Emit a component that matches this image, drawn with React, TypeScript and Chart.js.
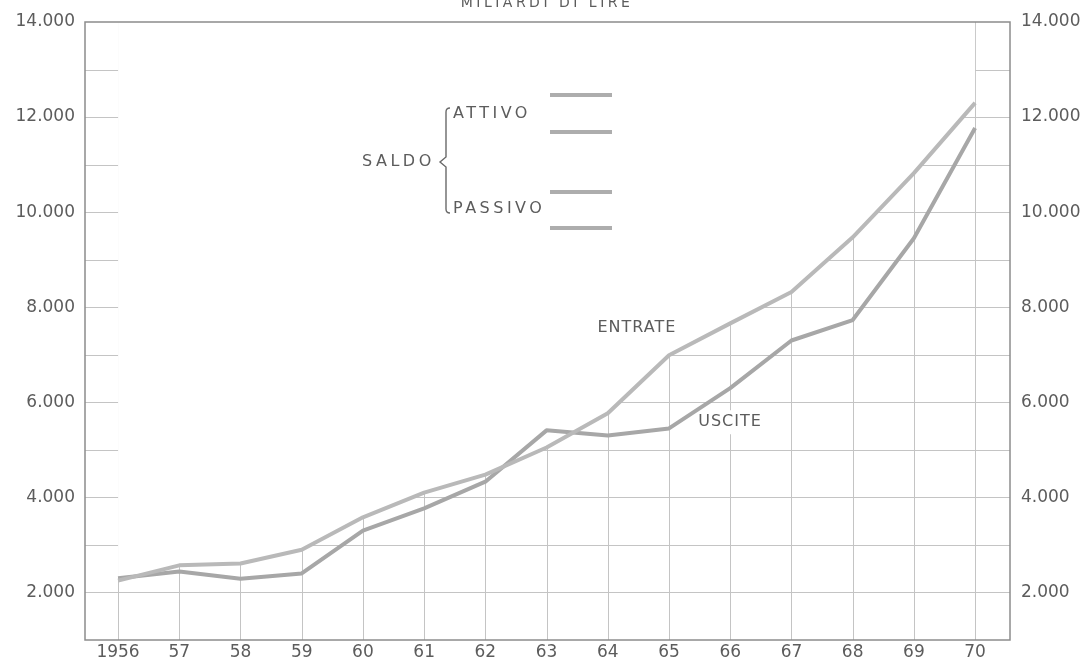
import React, { useEffect, useRef } from 'react';
import { Chart, registerables } from 'chart.js';

Chart.register(...registerables);

// ---- data (miliardi di lire) ----
const years = [1956, 1957, 1958, 1959, 1960, 1961, 1962, 1963, 1964, 1965, 1966, 1967, 1968, 1969, 1970];
const entrate = [2250, 2570, 2610, 2900, 3580, 4100, 4480, 5050, 5770, 6990, 7660, 8320, 9470, 10820, 12300];
const uscite = [2300, 2440, 2290, 2400, 3300, 3770, 4330, 5410, 5300, 5450, 6300, 7300, 7730, 9450, 11770];
const yearLabels = ['1956', '57', '58', '59', '60', '61', '62', '63', '64', '65', '66', '67', '68', '69', '70'];
const gridValues = [2000, 3000, 4000, 5000, 6000, 7000, 8000, 9000, 10000, 11000, 12000, 13000];
const yLabelValues = [2000, 4000, 6000, 8000, 10000, 12000, 14000];
const yLabelTexts = ['2.000', '4.000', '6.000', '8.000', '10.000', '12.000', '14.000'];

const FONT = '"DejaVu Sans", "Liberation Sans", sans-serif';
const TEXT = '#5c5c5c';
const GRID = '#c4c4c4';
const ENTRATE_COLOR = '#b9b9b9';
const USCITE_COLOR = '#a7a7a7';

function yLabel(v: number): string {
  const i = yLabelValues.indexOf(v);
  return i >= 0 ? yLabelTexts[i] : '';
}

export default function App() {
  const ref = useRef<HTMLCanvasElement>(null);

  useEffect(() => {
    const canvas = ref.current;
    if (!canvas) return;

    const overlay = {
      id: 'overlay',
      beforeDatasetsDraw(chart: any) {
        const { ctx, chartArea: a, scales } = chart;
        const xs = scales.x;
        const ys = scales.y;
        const pts = chart.getDatasetMeta(0).data;
        const ux = xs.getPixelForValue(1966.0);
        const uy = ys.getPixelForValue(5580);
        ctx.save();
        // the grid shows only beneath the ENTRATE curve (paper above left blank)
        ctx.beginPath();
        ctx.moveTo(a.left, a.bottom);
        ctx.lineTo(a.left, a.top);
        ctx.lineTo(pts[0].x, a.top);
        pts.forEach((p: any) => ctx.lineTo(p.x, p.y));
        ctx.lineTo(pts[pts.length - 1].x, a.top);
        ctx.lineTo(a.right, a.top);
        ctx.lineTo(a.right, a.bottom);
        ctx.closePath();
        ctx.rect(ux - 36, uy - 12, 76, 24);
        ctx.clip('evenodd');
        ctx.strokeStyle = GRID;
        ctx.lineWidth = 1;
        gridValues.forEach((v) => {
          const y = Math.round(ys.getPixelForValue(v)) + 0.5;
          ctx.beginPath();
          ctx.moveTo(a.left, y);
          ctx.lineTo(a.right, y);
          ctx.stroke();
        });
        years.forEach((yr) => {
          const x = Math.round(xs.getPixelForValue(yr)) + 0.5;
          ctx.beginPath();
          ctx.moveTo(x, a.top);
          ctx.lineTo(x, a.bottom);
          ctx.stroke();
        });
        ctx.restore();
      },
      afterDatasetsDraw(chart: any) {
        const { ctx, chartArea: a, scales } = chart;
        const xs = scales.x;
        const ys = scales.y;
        ctx.save();

        // frame
        ctx.strokeStyle = '#8c8c8c';
        ctx.lineWidth = 1.5;
        ctx.strokeRect(a.left, a.top, a.right - a.left, a.bottom - a.top);

        // title (cut at top edge like the scan)
        ctx.fillStyle = TEXT;
        ctx.font = `14px ${FONT}`;
        (ctx as any).letterSpacing = '3.5px';
        ctx.textAlign = 'center';
        ctx.textBaseline = 'alphabetic';
        ctx.fillText('MILIARDI DI LIRE', 547, 7);

        // series labels anchored in data space
        ctx.font = `16px ${FONT}`;
        (ctx as any).letterSpacing = '1px';
        ctx.textAlign = 'left';
        ctx.textBaseline = 'middle';
        const ex = xs.getPixelForValue(1964.5);
        const ey = ys.getPixelForValue(7560);
        ctx.fillText('ENTRATE', ex - 41, ey);
        const ux = xs.getPixelForValue(1966.0);
        const uy = ys.getPixelForValue(5580);
        ctx.fillText('USCITE', ux - 32, uy);

        // legend
        ctx.font = `16px ${FONT}`;
        (ctx as any).letterSpacing = '3.5px';
        ctx.fillText('SALDO', 362, 162);
        ctx.fillText('ATTIVO', 453, 114);
        ctx.fillText('PASSIVO', 453, 209);

        // brace
        ctx.strokeStyle = '#6a6a6a';
        ctx.lineWidth = 1.4;
        ctx.beginPath();
        ctx.moveTo(450, 108);
        ctx.quadraticCurveTo(446, 108, 446, 112);
        ctx.lineTo(446, 157);
        ctx.lineTo(440, 162);
        ctx.lineTo(446, 167);
        ctx.lineTo(446, 209);
        ctx.quadraticCurveTo(446, 213, 450, 213);
        ctx.stroke();

        // legend sample lines
        ctx.strokeStyle = '#adadad';
        ctx.lineWidth = 4;
        [95, 132, 192, 228].forEach((yy) => {
          ctx.beginPath();
          ctx.moveTo(550, yy);
          ctx.lineTo(612, yy);
          ctx.stroke();
        });

        ctx.restore();
      },
    };

    const chart = new Chart(canvas, {
      type: 'line',
      data: {
        datasets: [
          {
            label: 'ENTRATE',
            data: years.map((yr, i) => ({ x: yr, y: entrate[i] })),
            borderColor: ENTRATE_COLOR,
            borderWidth: 4,
            pointRadius: 0,
            tension: 0,
            borderJoinStyle: 'round',
            fill: false,
            order: 1,
          },
          {
            label: 'USCITE',
            data: years.map((yr, i) => ({ x: yr, y: uscite[i] })),
            borderColor: USCITE_COLOR,
            borderWidth: 4,
            pointRadius: 0,
            tension: 0,
            borderJoinStyle: 'round',
            fill: false,
            order: 2,
          },
        ],
      },
      options: {
        responsive: false,
        animation: false,
        devicePixelRatio: 1,
        layout: { padding: { top: 22, left: 0, right: 0, bottom: 0 } },
        plugins: {
          legend: { display: false },
          tooltip: { enabled: false },
          title: { display: false },
        },
        scales: {
          x: {
            type: 'linear',
            min: 1955.46,
            max: 1970.57,
            afterBuildTicks: (axis: any) => {
              axis.ticks = years.map((v) => ({ value: v }));
            },
            afterFit: (axis: any) => {
              axis.height = 22;
            },
            grid: { display: false, drawTicks: false },
            border: { display: false },
            ticks: {
              autoSkip: false,
              maxRotation: 0,
              padding: 2,
              color: TEXT,
              font: { family: FONT, size: 17 },
              callback: (v: any) => {
                const i = years.indexOf(Number(v));
                return i >= 0 ? yearLabels[i] : '';
              },
            },
          },
          y: {
            type: 'linear',
            position: 'left',
            min: 1000,
            max: 14000,
            afterFit: (axis: any) => {
              axis.width = 85;
            },
            grid: { display: false, drawTicks: false },
            border: { display: false },
            ticks: {
              stepSize: 1000,
              autoSkip: false,
              padding: 10,
              color: TEXT,
              font: { family: FONT, size: 17 },
              callback: (v: any) => yLabel(Number(v)),
            },
          },
          y2: {
            type: 'linear',
            position: 'right',
            min: 1000,
            max: 14000,
            afterFit: (axis: any) => {
              axis.width = 76;
            },
            grid: { display: false, drawTicks: false },
            border: { display: false },
            ticks: {
              stepSize: 1000,
              autoSkip: false,
              padding: 11,
              color: TEXT,
              font: { family: FONT, size: 17 },
              callback: (v: any) => yLabel(Number(v)),
            },
          },
        },
      },
      plugins: [overlay],
    } as any);

    return () => chart.destroy();
  }, []);

  return (
    <div style={{ position: 'absolute', left: 0, top: 0, width: 1086, height: 662, background: '#fff' }}>
      <canvas ref={ref} width={1086} height={662} style={{ display: 'block', width: 1086, height: 662 }} />
    </div>
  );
}
